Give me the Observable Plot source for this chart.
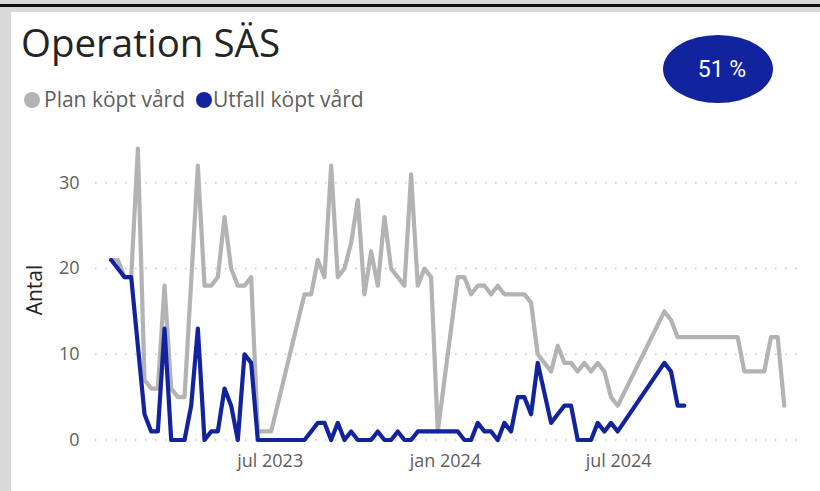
<!DOCTYPE html>
<html>
<head>
<meta charset="utf-8">
<script src="https://cdn.jsdelivr.net/npm/d3@7"></script>
<script src="https://cdn.jsdelivr.net/npm/@observablehq/plot@0.6"></script>
<style>
  html, body { margin: 0; padding: 0; background: #fff; }
  #page { position: relative; width: 820px; height: 491px; overflow: hidden; background: #fff; font-family: "Open Sans", "Noto Sans", sans-serif; }
  #topband { position: absolute; left: 0; top: 0; width: 820px; height: 12px; background: #d9d9d9; }
  #topline { position: absolute; left: 0; top: 4px; width: 820px; height: 3px; background: #111; }
  #leftbar { position: absolute; left: 0; top: 0; width: 11px; height: 491px; background: #d9d9d9; }
  #title { position: absolute; left: 21px; top: 23px; font-size: 38.5px; line-height: 1; color: #252423; white-space: nowrap; }
  .leg-dot { position: absolute; width: 16px; height: 16px; border-radius: 50%; top: 92px; }
  .leg-text { position: absolute; top: 89px; font-size: 21px; line-height: 1; color: #605E5C; white-space: nowrap; }
  #kpi { position: absolute; left: 663px; top: 35px; width: 110px; height: 68px; border-radius: 50%; background: #12239E;
         display: flex; align-items: center; justify-content: center; box-sizing: border-box; padding-left: 8px;
         color: #fff; font-family: Roboto, sans-serif; font-size: 23px; }
  #chart { position: absolute; left: 0; top: 120px; }
</style>
</head>
<body>
<div id="page">
  <div id="leftbar"></div>
  <div id="topband"></div>
  <div id="topline"></div>
  <div id="title"></div>
  <div id="legend"></div>
  <div id="kpi"></div>
  <div id="chart"></div>
</div>
<script>
// ---- data ----
const titleText = "Operation SÄS";
const kpiText = "51 %";
const seriesNames = ["Plan köpt vård", "Utfall köpt vård"];
const seriesColors = ["#B3B3B3", "#12239E"];

const weeks = [
  "2023-01-15","2023-01-22","2023-01-29","2023-02-05","2023-02-12","2023-02-19","2023-02-26","2023-03-05",
  "2023-03-12","2023-03-19","2023-03-26","2023-04-02","2023-04-09","2023-04-16","2023-04-23","2023-04-30",
  "2023-05-07","2023-05-14","2023-05-21","2023-05-28","2023-06-04","2023-06-11","2023-06-18","2023-06-25",
  "2023-07-02","2023-07-09","2023-07-16","2023-07-23","2023-07-30","2023-08-06","2023-08-13","2023-08-20",
  "2023-08-27","2023-09-03","2023-09-10","2023-09-17","2023-09-24","2023-10-01","2023-10-08","2023-10-15",
  "2023-10-22","2023-10-29","2023-11-05","2023-11-12","2023-11-19","2023-11-26","2023-12-03","2023-12-10",
  "2023-12-17","2023-12-24","2023-12-31","2024-01-07","2024-01-14","2024-01-21","2024-01-28","2024-02-04",
  "2024-02-11","2024-02-18","2024-02-25","2024-03-03","2024-03-10","2024-03-17","2024-03-24","2024-03-31",
  "2024-04-07","2024-04-14","2024-04-21","2024-04-28","2024-05-05","2024-05-12","2024-05-19","2024-05-26",
  "2024-06-02","2024-06-09","2024-06-16","2024-06-23","2024-06-30","2024-07-07","2024-07-14","2024-07-21",
  "2024-07-28","2024-08-04","2024-08-11","2024-08-18","2024-08-25","2024-09-01","2024-09-08","2024-09-15",
  "2024-09-22","2024-09-29","2024-10-06","2024-10-13","2024-10-20","2024-10-27","2024-11-03","2024-11-10",
  "2024-11-17","2024-11-24","2024-12-01","2024-12-08","2024-12-15","2024-12-22"
];

// Plan köpt vård (null = no value that week)
const planValues = [
  21, 21, 19, 19, 34, 7, 6, 6,
  18, 6, 5, 5, null, 32, 18, 18,
  19, 26, 20, 18, 18, 19, 1, 1,
  1, null, null, null, null, 17, 17, 21,
  19, 32, 19, 20, 23, 28, 17, 22,
  18, 26, 20, 19, 18, 31, 18, 20,
  19, 1, null, null, 19, 19, 17, 18,
  18, 17, 18, 17, 17, 17, 17, 16,
  10, 9, 8, 11, 9, 9, 8, 9,
  8, 9, 8, 5, 4, null, null, null,
  null, null, null, 15, 14, 12, 12, 12,
  12, 12, 12, 12, 12, 12, 12, 8,
  8, 8, 8, 12, 12, 4
];

// Utfall köpt vård
const utfallValues = [
  21, 20, 19, 19, 11, 3, 1, 1,
  13, 0, 0, 0, 4, 13, 0, 1,
  1, 6, 4, 0, 10, 9, 0, 0,
  0, 0, 0, 0, 0, 0, 1, 2,
  2, 0, 2, 0, 1, 0, 0, 0,
  1, 0, 0, 1, 0, 0, 1, 1,
  1, 1, 1, 1, 1, 0, 0, 2,
  1, 1, 0, 2, 1, 5, 5, 3,
  9, null, 2, 3, 4, 4, 0, 0,
  0, 2, 1, 2, 1, null, null, null,
  null, null, null, 9, 8, 4, 4, null,
  null, null, null, null, null, null, null, null,
  null, null, null, null, null, null
];

const yTicks = [0, 10, 20, 30];
const xTickDates = ["2023-07-01", "2024-01-01", "2024-07-01"];
const xTickLabels = ["jul 2023", "jan 2024", "jul 2024"];
const yLabel = "Antal";

// ---- header (title, legend, KPI) ----
document.getElementById("title").textContent = titleText;
document.getElementById("kpi").textContent = kpiText;
const legend = document.getElementById("legend");
const legendDotLeft = [24, 196];
const legendTextLeft = [44, 213];
seriesNames.forEach((name, i) => {
  const dot = document.createElement("div");
  dot.className = "leg-dot";
  dot.style.left = legendDotLeft[i] + "px";
  dot.style.background = seriesColors[i];
  legend.appendChild(dot);
  const t = document.createElement("div");
  t.className = "leg-text";
  t.style.left = legendTextLeft[i] + "px";
  t.textContent = name;
  legend.appendChild(t);
});

// ---- chart ----
const planRows = [];
const utfallRows = [];
weeks.forEach((d, i) => {
  if (planValues[i] != null) planRows.push({date: new Date(d), value: planValues[i]});
  if (utfallValues[i] != null) utfallRows.push({date: new Date(d), value: utfallValues[i]});
});

const chart = Plot.plot({
  width: 820,
  height: 360,
  marginLeft: 95,
  marginRight: 20,
  marginTop: 19.5,
  marginBottom: 40.5,
  style: {fontFamily: "'Open Sans', 'Noto Sans', sans-serif", fontSize: "18px", color: "#605E5C", background: "transparent"},
  x: {type: "utc", domain: [new Date("2022-12-29T12:00:00Z"), new Date("2025-01-08T00:00:00Z")]},
  y: {domain: [0, 35]},
  marks: [
    Plot.ruleY(yTicks, {stroke: "#c3c3c3", strokeWidth: 1.5, strokeDasharray: "1.5,8.5"}),
    Plot.axisY(yTicks, {tickSize: 0, tickPadding: 16, label: null, fill: "#605E5C", fontSize: 18}),
    Plot.axisX(xTickDates.map(d => new Date(d)), {
      tickSize: 0, tickPadding: 14, label: null, fill: "#605E5C", fontSize: 18,
      tickFormat: d => xTickLabels[xTickDates.indexOf(d.toISOString().slice(0, 10))]
    }),
    Plot.text([yLabel], {frameAnchor: "left", textAnchor: "middle", rotate: -90, dx: -60, fill: "#252423", fontSize: 21}),
    Plot.line(planRows, {x: "date", y: "value", stroke: seriesColors[0], strokeWidth: 4.2, strokeLinejoin: "round", strokeLinecap: "round"}),
    Plot.line(utfallRows, {x: "date", y: "value", stroke: seriesColors[1], strokeWidth: 4.2, strokeLinejoin: "round", strokeLinecap: "round"})
  ]
});
document.getElementById("chart").appendChild(chart);
</script>
</body>
</html>
